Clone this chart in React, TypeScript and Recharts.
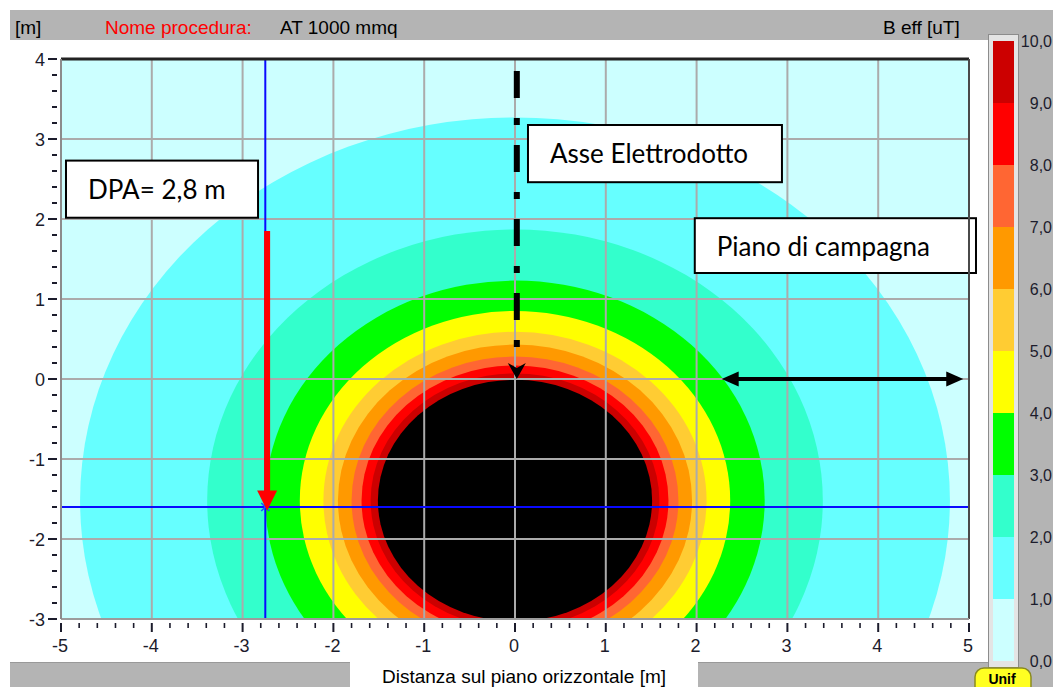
import React from 'react';
import {
  ComposedChart,
  BarChart,
  Bar,
  XAxis,
  YAxis,
  ReferenceArea,
  ReferenceLine,
  ReferenceDot,
} from 'recharts';

const FONT = "'Liberation Sans', Arial, sans-serif";
const BOX_FONT = "Lato, 'Open Sans', sans-serif";
const TICK_COLOR = '#1c1c2c';

// ---- field contours (B eff, uT) ----
const contourLevels = [1, 2, 3, 4, 5, 6, 7, 8, 9, 10];
const contourRadii = [4.79, 3.39, 2.75, 2.37, 2.11, 1.95, 1.8, 1.69, 1.59, 1.51];
const contourColors = ['#66FFFF', '#33FFCC', '#00FF00', '#FFFF00', '#FFCC33', '#FF9900', '#FF6633', '#FF0000', '#CC0000', '#000000'];
const fieldBackground = '#CCFFFF';
const conductorX = 0;
const conductorY = -1.52;

// ---- axes ----
const xMajorTicks = [-5, -4, -3, -2, -1, 0, 1, 2, 3, 4, 5];
const yMajorTicks = [-3, -2, -1, 0, 1, 2, 3, 4];
const minorSteps = [0.2, 0.4, 0.6, 0.8];
const xDomain = [-5, 5];
const yDomain = [-3, 4];

// ---- legend (colour scale) ----
const legendTicks = [0, 1, 2, 3, 4, 5, 6, 7, 8, 9, 10];
const legendColors = ['#CCFFFF', '#66FFFF', '#33FFCC', '#00FF00', '#FFFF00', '#FFCC33', '#FF9900', '#FF6633', '#FF0000', '#CC0000'];

// ---- annotations ----
const dpaX = -2.75;
const dpaY = -1.6;
const redArrow = { x: -2.73, yFrom: 1.85, yTo: -1.645 };
const axisArrow = { x: 0.02, yFrom: 3.85, yTo: 0 };
const groundArrow = { y: 0, xFrom: 2.276, xTo: 4.937 };
const boxTexts = ['DPA= 2,8 m', 'Asse Elettrodotto', 'Piano di campagna'];
const boxX1 = [-4.945, 0.143, 1.98];
const boxX2 = [-2.83, 2.94, 5.077];
const boxY1 = [2.016, 2.46, 1.325];
const boxY2 = [2.73, 3.175, 2.01];

const buildMinor = (majors: number[]) => {
  const out: number[] = [];
  majors.forEach((m, i) => {
    out.push(m);
    if (i < majors.length - 1) minorSteps.forEach((s) => out.push(Math.round((m + s) * 10) / 10));
  });
  return out;
};
const xTicks = buildMinor(xMajorTicks);
const yTicks = buildMinor(yMajorTicks);
const isMajor = (v: number) => Math.abs(v - Math.round(v)) < 1e-6;

const legendRow: Record<string, any> = { name: 'B' };
legendColors.forEach((_, i) => {
  legendRow['c' + i] = legendTicks[i + 1] - legendTicks[i];
});
const legendData = [legendRow];

const XTick = (props: any) => {
  const { x, y, payload } = props;
  const v = payload.value;
  const major = isMajor(v);
  return (
    <g>
      <line x1={x} x2={x} y1={y + 4} y2={y + (major ? 13 : 9)} stroke={TICK_COLOR} strokeWidth={major ? 2 : 1.6} />
      {major && (
        <text x={x - 1} y={y + 33} textAnchor="middle" fontSize={18} fontFamily={FONT} fill={TICK_COLOR}>
          {String(Math.round(v))}
        </text>
      )}
    </g>
  );
};

const YTick = (props: any) => {
  const { x, y, payload } = props;
  const v = payload.value;
  const major = isMajor(v);
  return (
    <g>
      <line x1={x - (major ? 13 : 9)} x2={x - 4} y1={y} y2={y} stroke={TICK_COLOR} strokeWidth={2} />
      {major && (
        <text x={x - 16} y={y + 6.5} textAnchor="end" fontSize={18} fontFamily={FONT} fill={TICK_COLOR}>
          {String(Math.round(v))}
        </text>
      )}
    </g>
  );
};

const LegendTick = (props: any) => {
  const { x, y, payload } = props;
  return (
    <text x={x + 38} y={y + 6} textAnchor="end" fontSize={16} fontFamily={FONT} fill={TICK_COLOR}>
      {Number(payload.value).toFixed(1).replace('.', ',')}
    </text>
  );
};

const ellipseShape = (color: string) => (p: any) => {
  const w = Math.abs(p.width);
  const h = Math.abs(p.height);
  return (
    <ellipse
      cx={p.x + p.width / 2}
      cy={p.y + p.height / 2}
      rx={w / 2}
      ry={h / 2}
      fill={color}
      fillOpacity={1}
      stroke="none"
      clipPath={p.clipPath}
    />
  );
};

const boxShape = (text: string) => (p: any) => {
  const x = Math.min(p.x, p.x + p.width);
  const y = Math.min(p.y, p.y + p.height);
  return (
    <g>
      <rect x={x} y={y} width={Math.abs(p.width)} height={Math.abs(p.height)} fill="#FFFFFF" stroke="#000000" strokeWidth={2} />
      <text x={x + 22} y={y + 38} fontSize={26} fontFamily={BOX_FONT} fill="#000000">
        {text}
      </text>
    </g>
  );
};

const redArrowShape = (p: any) => {
  const { x1, y1, x2, y2 } = p;
  const top = Math.min(y1, y2);
  const tip = Math.max(y1, y2);
  return (
    <g>
      <rect x={x1 - 3} y={top} width={6} height={tip - top - 18} fill="#FF0000" />
      <polygon points={`${x2 - 10},${tip - 20} ${x2 + 10},${tip - 20} ${x2},${tip}`} fill="#FF0000" />
    </g>
  );
};

const dashArrowShape = (p: any) => {
  const { x1, y1, y2 } = p;
  const top = Math.min(y1, y2);
  const tip = Math.max(y1, y2);
  return (
    <g>
      <line x1={x1} x2={x1} y1={top} y2={tip - 14} stroke="#000000" strokeWidth={6} strokeDasharray="27 20 7 20" />
      <polygon
        points={`${x1},${tip} ${x1 - 9},${tip - 16} ${x1},${tip - 11} ${x1 + 9},${tip - 16}`}
        fill="#000000"
      />
    </g>
  );
};

const doubleArrowShape = (p: any) => {
  const { x1, y1, x2 } = p;
  const l = Math.min(x1, x2);
  const r = Math.max(x1, x2);
  const y = y1;
  return (
    <g>
      <line x1={l + 14} x2={r - 14} y1={y} y2={y} stroke="#000000" strokeWidth={4} />
      <polygon points={`${l},${y} ${l + 17},${y - 7.5} ${l + 17},${y + 7.5}`} fill="#000000" />
      <polygon points={`${r},${y} ${r - 17},${y - 7.5} ${r - 17},${y + 7.5}`} fill="#000000" />
    </g>
  );
};

const crossShape = (p: any) => {
  const { cx, cy } = p;
  return (
    <g stroke="#1f4fff" strokeWidth={1.5}>
      <line x1={cx - 4} y1={cy - 4} x2={cx + 4} y2={cy + 4} />
      <line x1={cx - 4} y1={cy + 4} x2={cx + 4} y2={cy - 4} />
    </g>
  );
};

const Background = () => (
  <svg width={1053} height={687} style={{ position: 'absolute', left: 0, top: 0 }}>
    <rect x={0} y={0} width={1053} height={687} fill="#FFFFFF" />
    <rect x={10} y={10} width={1043} height={30} fill="#B4B4B4" />
    <rect x={988} y={40} width={65} height={647} fill="#B4B4B4" />
    <rect x={10} y={662} width={978} height={25} fill="#B4B4B4" />
    <line x1={10} x2={350} y1={662.5} y2={662.5} stroke="#999999" />
    <line x1={698} x2={988} y1={662.5} y2={662.5} stroke="#999999" />
    <rect x={350} y={660} width={348} height={27} fill="#FFFFFF" />
    <rect x={988.5} y={34.5} width={30} height={633} fill="#E4E4E4" stroke="#8C8C8C" />
    <text x={15} y={34} fontSize={19} fontFamily={FONT} fill="#000000">[m]</text>
    <text x={105} y={34} fontSize={19} fontFamily={FONT} fill="#FF0000">Nome procedura:</text>
    <text x={280} y={34} fontSize={19} fontFamily={FONT} fill="#000000">AT 1000 mmq</text>
    <text x={883} y={34} fontSize={19} fontFamily={FONT} fill="#000000">B eff [uT]</text>
    <text x={524} y={683} textAnchor="middle" fontSize={19} fontFamily={FONT} fill="#000000">
      Distanza sul piano orizzontale [m]
    </text>
    <rect x={975} y={668} width={56} height={30} rx={9} fill="#FFFF22" stroke="#8A8A20" strokeWidth={1.5} />
    <text x={1002} y={684} textAnchor="middle" fontSize={14} fontWeight="bold" fontFamily={FONT} fill="#000000">
      Unif
    </text>
  </svg>
);

export default function App() {
  return (
    <div style={{ position: 'absolute', left: 0, top: 0, width: 1053, height: 687, overflow: 'hidden', background: '#FFFFFF' }}>
      <Background />
      <div style={{ position: 'absolute', left: 0, top: 40 }}>
        <ComposedChart width={982} height={622} margin={{ top: 19, right: 13, bottom: 0, left: 0 }}>
          <ReferenceArea
            x1={xDomain[0]}
            x2={xDomain[1]}
            y1={yDomain[0]}
            y2={yDomain[1]}
            fill={fieldBackground}
            fillOpacity={1}
            stroke="none"
            ifOverflow="hidden"
            zIndex={101}
          />
          {contourLevels.map((lvl, i) => (
            <ReferenceArea
              key={'c' + lvl}
              x1={conductorX - contourRadii[i]}
              x2={conductorX + contourRadii[i]}
              y1={conductorY - contourRadii[i]}
              y2={conductorY + contourRadii[i]}
              ifOverflow="hidden"
              shape={ellipseShape(contourColors[i])}
              zIndex={102 + i}
            />
          ))}
          {xMajorTicks.slice(1, -1).map((v) => (
            <ReferenceLine key={'gx' + v} x={v} stroke="#ABABAB" strokeWidth={2} ifOverflow="visible" zIndex={120} />
          ))}
          {yMajorTicks.slice(1, -1).map((v) => (
            <ReferenceLine key={'gy' + v} y={v} stroke="#ABABAB" strokeWidth={2} ifOverflow="visible" zIndex={120} />
          ))}
          <ReferenceLine x={dpaX} stroke="#0A0AFF" strokeWidth={2} ifOverflow="visible" zIndex={130} />
          <ReferenceLine y={dpaY} stroke="#0A0AFF" strokeWidth={2} ifOverflow="visible" zIndex={130} />
          <ReferenceDot x={dpaX} y={dpaY} r={4} ifOverflow="visible" shape={crossShape} zIndex={131} />
          <ReferenceLine
            segment={[
              { x: redArrow.x, y: redArrow.yFrom },
              { x: redArrow.x, y: redArrow.yTo },
            ]}
            ifOverflow="visible"
            shape={redArrowShape}
            zIndex={140}
          />
          <ReferenceLine
            segment={[
              { x: axisArrow.x, y: axisArrow.yFrom },
              { x: axisArrow.x, y: axisArrow.yTo },
            ]}
            ifOverflow="visible"
            shape={dashArrowShape}
            zIndex={140}
          />
          <ReferenceLine
            segment={[
              { x: groundArrow.xFrom, y: groundArrow.y },
              { x: groundArrow.xTo, y: groundArrow.y },
            ]}
            ifOverflow="visible"
            shape={doubleArrowShape}
            zIndex={140}
          />
          {boxTexts.map((t, i) => (
            <ReferenceArea
              key={'b' + i}
              x1={boxX1[i]}
              x2={boxX2[i]}
              y1={boxY1[i]}
              y2={boxY2[i]}
              ifOverflow="visible"
              shape={boxShape(t)}
              zIndex={150}
            />
          ))}
          <ReferenceLine y={yDomain[1]} stroke="#222222" strokeWidth={3} ifOverflow="visible" zIndex={160} />
          <ReferenceLine x={xDomain[1]} stroke="#4A4A4A" strokeWidth={2} ifOverflow="visible" zIndex={160} />
          <XAxis
            type="number"
            dataKey="x"
            domain={xDomain}
            allowDataOverflow
            ticks={xTicks}
            interval={0}
            tickLine={false}
            tickSize={0}
            tickMargin={0}
            height={43}
            axisLine={{ stroke: '#9C9C9C', strokeWidth: 2 }}
            tick={<XTick />}
          />
          <YAxis
            type="number"
            dataKey="y"
            domain={yDomain}
            allowDataOverflow
            ticks={yTicks}
            interval={0}
            tickLine={false}
            tickSize={0}
            tickMargin={0}
            width={61}
            axisLine={{ stroke: '#8C8C8C', strokeWidth: 2 }}
            tick={<YTick />}
          />
        </ComposedChart>
      </div>
      <div style={{ position: 'absolute', left: 985, top: 0 }}>
        <BarChart
          width={68}
          height={687}
          data={legendData}
          margin={{ top: 41, right: 0, bottom: 26, left: 8 }}
          barCategoryGap={0}
          barGap={0}
        >
          <XAxis dataKey="name" hide />
          <YAxis
            orientation="right"
            type="number"
            domain={[0, 10]}
            ticks={legendTicks}
            interval={0}
            width={39}
            axisLine={false}
            tickLine={false}
            tickSize={0}
            tickMargin={0}
            tick={<LegendTick />}
          />
          {legendColors.map((c, i) => (
            <Bar key={'l' + i} dataKey={'c' + i} stackId="s" fill={c} isAnimationActive={false} />
          ))}
        </BarChart>
      </div>
    </div>
  );
}
